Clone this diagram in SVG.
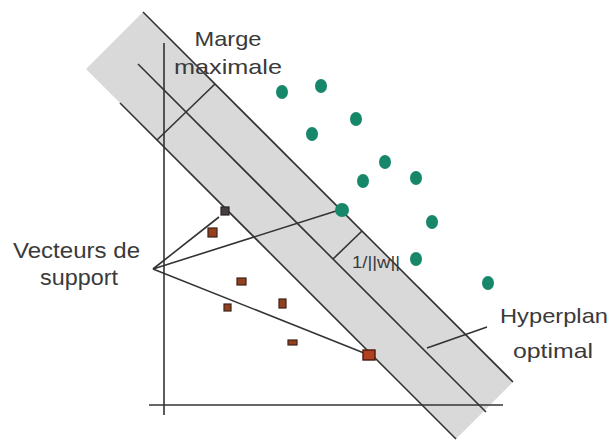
<svg xmlns="http://www.w3.org/2000/svg" width="608" height="441" viewBox="0 0 608 441">
<style>
.ln{stroke:#333;stroke-width:1.6;fill:none}
.tx{font-family:"Liberation Sans",Arial,sans-serif;fill:#3a3a3a}
.g{fill:#17876a}
.sq{fill:#94401f;stroke:#3a2418;stroke-width:1.2}
</style>
<rect width="608" height="441" fill="#fff"/>
<g id="band">
<polygon points="143,12 86,69 456,439 513,382" fill="#d9d9d9"/>
</g>
<g id="connectors">
<line class="ln" x1="143" y1="12" x2="513" y2="382"/>
<line class="ln" x1="138" y1="64" x2="486" y2="412"/>
<line class="ln" x1="120" y1="103" x2="456" y2="439"/>
<line class="ln" x1="164" y1="43" x2="164" y2="415"/>
<line class="ln" x1="149" y1="405" x2="503" y2="405"/>
<line class="ln" x1="157" y1="140" x2="215" y2="84"/>
<line class="ln" x1="333" y1="259" x2="362" y2="231"/>
<line class="ln" x1="427" y1="348" x2="487" y2="327"/>
<line class="ln" x1="153" y1="269" x2="219" y2="217"/>
<line class="ln" x1="153" y1="269" x2="336" y2="211"/>
<line class="ln" x1="153" y1="269" x2="364" y2="353"/>
</g>
<g id="classA">
<ellipse class="g" cx="282" cy="92" rx="6" ry="7"/>
<ellipse class="g" cx="321" cy="86" rx="6" ry="7"/>
<ellipse class="g" cx="356" cy="119" rx="6" ry="7"/>
<ellipse class="g" cx="312" cy="134" rx="6" ry="7"/>
<ellipse class="g" cx="385" cy="162" rx="6" ry="7"/>
<ellipse class="g" cx="363" cy="181" rx="6" ry="7"/>
<ellipse class="g" cx="416" cy="178" rx="6" ry="7"/>
<ellipse class="g" cx="342" cy="210" rx="7" ry="7"/>
<ellipse class="g" cx="432" cy="222" rx="6" ry="7"/>
<ellipse class="g" cx="416" cy="259" rx="6" ry="7"/>
<ellipse class="g" cx="488" cy="283" rx="6" ry="7"/>
</g>
<g id="classB">
<rect x="221" y="207" width="8" height="8" fill="#454040" stroke="#2a2424" stroke-width="1.2"/>
<rect class="sq" x="208" y="228" width="9" height="9"/>
<rect class="sq" x="237" y="278" width="9" height="7"/>
<rect class="sq" x="224" y="304" width="7" height="7"/>
<rect class="sq" x="279" y="299" width="7" height="9"/>
<rect class="sq" x="288" y="340" width="9" height="5"/>
<rect x="363" y="350" width="12" height="10" fill="#b0401f" stroke="#4a1a10" stroke-width="1.4"/>
</g>
<g id="labels">
<text class="tx" x="228" y="46" font-size="21" text-anchor="middle" textLength="67" lengthAdjust="spacingAndGlyphs">Marge</text>
<text class="tx" x="228" y="74" font-size="21" text-anchor="middle" textLength="108" lengthAdjust="spacingAndGlyphs">maximale</text>
<text class="tx" x="13" y="258" font-size="22" textLength="127" lengthAdjust="spacingAndGlyphs">Vecteurs de</text>
<text class="tx" x="40" y="285" font-size="22" textLength="78" lengthAdjust="spacingAndGlyphs">support</text>
<text class="tx" x="352" y="268" font-size="16" textLength="48" lengthAdjust="spacingAndGlyphs">1/||w||</text>
<text class="tx" x="500" y="323" font-size="21" textLength="108" lengthAdjust="spacingAndGlyphs">Hyperplan</text>
<text class="tx" x="513" y="358" font-size="21" textLength="80" lengthAdjust="spacingAndGlyphs">optimal</text>
</g>
</svg>
